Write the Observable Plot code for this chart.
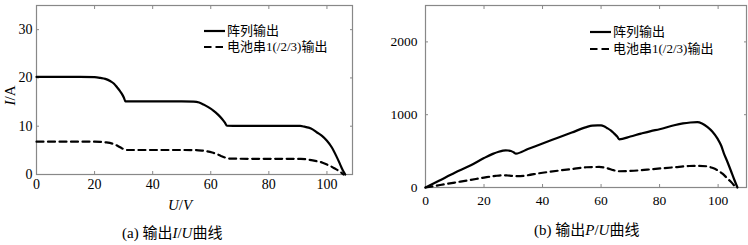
<!DOCTYPE html>
<html><head><meta charset="utf-8">
<script src="https://cdn.jsdelivr.net/npm/d3@7"></script>
<script src="https://cdn.jsdelivr.net/npm/@observablehq/plot@0.6"></script>
<style>
body{margin:0;background:#fff;}
#wrap{position:relative;width:748px;height:245px;overflow:hidden;font-family:"Liberation Serif","Noto Sans CJK SC",serif;color:#000;}
.abs{position:absolute;white-space:nowrap;line-height:1;}
.leg{position:absolute;white-space:nowrap;font-size:13px;line-height:16px;display:flex;align-items:center;}
.leg svg{display:block;margin-right:2px;}
</style></head><body><div id="wrap"></div>
<script>
// ---- data: I-U curves ----
const ivArrayU = [0,5,10,15,20,22,23.7,25.5,26.7,27.8,28.7,29.5,30.1,30.6,35,40,45,50,54.1,56,57.5,59,61,62.5,63.9,64.8,65.6,70,75,80,85,90.8,92.3,93.7,95.2,96.6,98.3,100,101.7,103.4,104.4,105.2,105.8,106.3];
const ivArrayI = [20.2,20.2,20.2,20.2,20.15,20.0,19.8,19.3,18.8,18.0,17.3,16.6,15.9,15.15,15.15,15.15,15.15,15.15,15.1,14.9,14.5,14.0,13.2,12.4,11.5,10.8,10.1,10.05,10.05,10.05,10.05,10.05,9.9,9.7,9.3,8.7,8.0,7.0,5.6,3.6,2.3,1.2,0.5,0];
const ivStringU = [0,10,20,22,24,26.6,28,29.5,31.2,40,50,55,57,58.7,60.5,62,63.5,65,66.5,75,85,91,94,96.6,98.5,100,101.5,102.9,104.5,105.7];
const ivStringI = [6.8,6.8,6.8,6.75,6.65,6.3,5.9,5.4,5.07,5.07,5.07,5.05,4.95,4.8,4.55,4.25,3.85,3.5,3.3,3.25,3.25,3.22,3.05,2.74,2.45,2.06,1.65,1.17,0.6,0];
// ---- data: P-U curves ----
const pvArrayU = [0,5,10,15.5,20,23,25,26.5,27.4,28.3,29.2,30.1,30.9,35,40,45,50,55,57,58.8,60,61,62,63.3,64.5,65.5,66.2,70,73.6,77,80,85,88,90.5,92.9,94.5,96.4,98,99.8,101,102,103.2,104.3,105.5,106.6];
const pvArrayP = [0,101,202,305,404,462,492,507,511,508,502,484,466,528,605,680,755,830,850,853,852,840,818,785,740,700,662,700,740,775,800,855,880,893,899,880,830,770,671,580,466,350,237,110,0];
const pvStringU = [0,5,10,15.5,20,24,26.6,28,29.5,31.4,40,50,55,59.3,61,62.5,64,66.2,70,73.6,77,85,90.1,93,96.4,98,99.8,101.5,103.2,104.8,106];
const pvStringP = [0,34,68,105,136,160,168,165,159,155,203,254,278,282,275,260,240,223,228,237,250,278,295,296,290,270,237,190,123,60,0];
// ---- ticks / labels ----
const xTicks = [0,20,40,60,80,100];
const ivYTicks = [0,10,20,30];
const pvYTicks = [0,1000,2000];
const seriesNames = ["阵列输出","电池串1(/2/3)输出"];

const zip = (xs, ys, k) => xs.map((x,i)=>({u:x,[k]:ys[i]}));
const wrap = document.getElementById("wrap");

function makeChart({xDomain, yDomain, yTicks, solid, dashed, key, ml, mr, mt, mb, h, padX, padY, fs}) {
  return Plot.plot({
    width:374, height:h, marginLeft:ml, marginRight:mr, marginTop:mt, marginBottom:mb,
    style:{fontFamily:"Liberation Serif, serif", fontSize:fs, color:"#000", background:"transparent", overflow:"visible"},
    x:{domain:xDomain},
    y:{domain:yDomain},
    marks:[
      Plot.frame({stroke:"#888", strokeWidth:1.2}),
      Plot.axisX(xTicks, {anchor:"bottom", tickSize:-3, tickPadding:padX+3, tickFormat:"d", label:null, stroke:"#888", fill:"#000"}),
      Plot.axisX(xTicks, {anchor:"top", tickSize:-3, tickFormat:()=>"", label:null, stroke:"#888"}),
      Plot.axisY(yTicks, {anchor:"left", tickSize:-3, tickPadding:padY+3, tickFormat:"d", label:null, stroke:"#888", fill:"#000"}),
      Plot.axisY(yTicks, {anchor:"right", tickSize:-3, tickFormat:()=>"", label:null, stroke:"#888"}),
      Plot.line(dashed, {x:"u", y:key, stroke:"#000", strokeWidth:2.2, strokeDasharray:"7,4.5", curve:"monotone-x"}),
      Plot.line(solid, {x:"u", y:key, stroke:"#000", strokeWidth:2.2, curve:"monotone-x"})
    ]
  });
}

const c1 = makeChart({xDomain:[0,108.8], yDomain:[0,35], yTicks:ivYTicks,
  solid:zip(ivArrayU, ivArrayI, "i"), dashed:zip(ivStringU, ivStringI, "i"), key:"i",
  ml:36, mr:22, mt:5, mb:26, h:200, padX:5, padY:4, fs:"14px"});
c1.style.position="absolute"; c1.style.left="0px"; c1.style.top="0px";
wrap.appendChild(c1);

const c2 = makeChart({xDomain:[0,109.7], yDomain:[0,2500], yTicks:pvYTicks,
  solid:zip(pvArrayU, pvArrayP, "p"), dashed:zip(pvStringU, pvStringP, "p"), key:"p",
  ml:51, mr:2, mt:5, mb:28, h:215, padX:8, padY:8, fs:"13.5px"});
c2.style.position="absolute"; c2.style.left="374px"; c2.style.top="0px";
wrap.appendChild(c2);

function addHTML(html, css) {
  const d = document.createElement("div");
  d.className = "abs"; d.innerHTML = html; Object.assign(d.style, css);
  wrap.appendChild(d); return d;
}
function legend(x, y, dashed, text) {
  const d = document.createElement("div");
  d.className = "leg";
  d.style.left = x + "px"; d.style.top = (y - 8) + "px";
  d.innerHTML = `<svg width="21" height="4"><line x1="0" y1="2" x2="21" y2="2" stroke="#000" stroke-width="2.2" ${dashed ? 'stroke-dasharray="7.5,4"' : ''}/></svg><span>${text}</span>`;
  wrap.appendChild(d);
}
legend(204, 30.7, false, seriesNames[0]);
legend(204, 47.3, true, seriesNames[1]);
legend(590, 32.3, false, seriesNames[0]);
legend(590, 49.3, true, seriesNames[1]);

// axis titles
addHTML('<i>I</i>/A', {left:"-3px", top:"88px", fontSize:"15px", transform:"rotate(-90deg)", transformOrigin:"center", width:"26px", textAlign:"center"});
addHTML('<i>U</i>/<i>V</i>', {left:"168px", top:"197.5px", fontSize:"15px"});
// captions
addHTML('(a) 输出<i>I</i>/<i>U</i>曲线', {left:"122px", top:"225.5px", fontSize:"15px"});
addHTML('(b) 输出<i>P</i>/<i>U</i>曲线', {left:"534px", top:"222.5px", fontSize:"15px"});
</script>
</body></html>
